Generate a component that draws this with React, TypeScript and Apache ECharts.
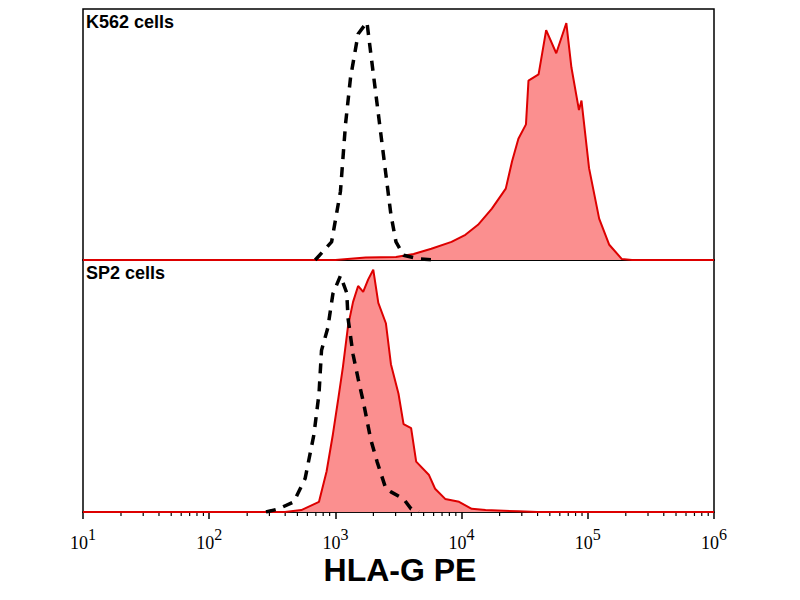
import { useEffect, useRef } from 'react';
import * as echarts from 'echarts';

// x values are log10(HLA-G PE fluorescence), y is relative count (peak = 100)
const k562Iso: [number, number][] = [
  [2.84, 0], [2.97, 7.6], [3.04, 28.8], [3.08, 57], [3.12, 76.7], [3.18, 95],
  [3.25, 100], [3.28, 87], [3.32, 70], [3.36, 53], [3.40, 36], [3.44, 19], [3.48, 7.6],
  [3.54, 2], [3.66, 0.5], [3.8, 0],
];
const k562Stain: [number, number][] = [
  [1, 0], [3.0, 0], [3.24, 1], [3.48, 1.3], [3.62, 2.5], [3.76, 4.7], [3.92, 7.6], [4.03, 10.6],
  [4.13, 14.8], [4.24, 21.6], [4.35, 30], [4.40, 41.5], [4.45, 51], [4.51, 57], [4.53, 75.4],
  [4.61, 78], [4.67, 96.6], [4.75, 86.9], [4.83, 99.6], [4.87, 81], [4.93, 63], [4.95, 67],
  [5.01, 38.6], [5.09, 17.4], [5.17, 6.4], [5.27, 0.4], [5.35, 0], [6, 0],
];
const sp2Iso: [number, number][] = [
  [2.45, 0], [2.55, 1.3], [2.67, 4.2], [2.76, 13.8], [2.83, 32], [2.87, 48.8], [2.89, 66.7],
  [2.94, 76], [2.98, 90], [3.04, 97.5], [3.09, 90.4], [3.10, 80], [3.14, 65], [3.18, 55],
  [3.22, 45.8], [3.28, 30], [3.33, 20.8], [3.40, 9.6], [3.44, 8.3], [3.54, 5.4], [3.60, 1.3],
  [3.66, 0],
];
const sp2Stain: [number, number][] = [
  [1, 0], [2.6, 0], [2.73, 0.8], [2.87, 4.2], [2.93, 16.7], [2.98, 32], [3.02, 45.8], [3.06, 60],
  [3.10, 76.7], [3.14, 86.7], [3.18, 93.3], [3.22, 90.8], [3.26, 96], [3.30, 100], [3.34, 86.3],
  [3.40, 77.9], [3.44, 61], [3.50, 48.8], [3.54, 36.3], [3.60, 34.6], [3.64, 20.8], [3.74, 15.4],
  [3.79, 9.6], [3.87, 5.4], [3.98, 4.2], [4.08, 1.3], [4.19, 0.8], [4.45, 0.3], [4.6, 0], [6, 0],
];
const panelLabels = ['K562 cells', 'SP2 cells'];
const xTitle = 'HLA-G PE';

const minorTicks: number[] = [];
for (let d = 1; d < 6; d++) for (let k = 2; k <= 9; k++) minorTicks.push(d + Math.log10(k));

export default function App() {
  const ref = useRef<HTMLDivElement>(null);
  useEffect(() => {
    if (!ref.current) return;
    const chart = echarts.init(ref.current, undefined, { renderer: 'svg' });
    const iso = (data: [number, number][], i: number) => ({
      type: 'line', xAxisIndex: i, yAxisIndex: i, data, symbol: 'none', z: 3,
      lineStyle: { color: '#000', width: 3.5, type: [10, 8] },
    });
    const stain = (data: [number, number][], i: number) => ({
      type: 'line', xAxisIndex: i, yAxisIndex: i, data, symbol: 'none', z: 2,
      lineStyle: { color: '#dd0000', width: 2 },
      areaStyle: { color: '#fb8f8f', opacity: 1 },
    });
    const xBase = {
      type: 'value', min: 1, max: 6, interval: 1,
      splitLine: { show: false },
      axisLine: { show: true, lineStyle: { color: '#000', width: 1.5 } },
    };
    chart.setOption({
      animation: false,
      grid: [
        { left: 75, top: 1, width: 631, height: 251, show: true, borderColor: '#000', borderWidth: 1.5 },
        { left: 75, top: 252, width: 631, height: 252, show: true, borderColor: '#000', borderWidth: 1.5 },
      ],
      xAxis: [
        { ...xBase, gridIndex: 0, axisTick: { show: false }, axisLabel: { show: false } },
        {
          ...xBase, gridIndex: 1,
          axisTick: { show: true, length: 7, lineStyle: { color: '#000', width: 1.5 } },
          axisLabel: {
            margin: 10,
            formatter: (v: number) => `{b|10}{s|${v}}`,
            rich: {
              b: { fontFamily: 'Liberation Serif', fontSize: 18, color: '#000', padding: [12, 0, 0, 0] },
              s: { fontFamily: 'Liberation Serif', fontSize: 16, color: '#000', padding: [0, 0, 6, 0] },
            },
          },
        },
      ],
      yAxis: [
        { type: 'value', gridIndex: 0, min: 0, max: 105.5, show: false },
        { type: 'value', gridIndex: 1, min: 0, max: 104, show: false },
      ],
      graphic: [
        { type: 'text', left: 78, top: 5, style: { text: panelLabels[0], font: 'bold 18px "Liberation Sans"', fill: '#000' } },
        { type: 'text', left: 78, top: 256, style: { text: panelLabels[1], font: 'bold 18px "Liberation Sans"', fill: '#000' } },
        { type: 'text', left: 'center', top: 546, style: { text: xTitle, font: 'bold 32px "Liberation Sans"', fill: '#000' } },
      ],
      series: [
        stain(k562Stain, 0), iso(k562Iso, 0),
        stain(sp2Stain, 1), iso(sp2Iso, 1),
        {
          type: 'custom', xAxisIndex: 1, yAxisIndex: 1, data: minorTicks.map((m) => [m, 0]),
          clip: false, silent: true,
          renderItem: (params: any, api: any) => {
            const p = api.coord([api.value(0), 0]);
            return { type: 'line', shape: { x1: p[0], y1: p[1], x2: p[0], y2: p[1] + 4 }, style: { stroke: '#000', lineWidth: 1.2 } };
          },
        },
      ],
    });
    return () => chart.dispose();
  }, []);
  return <div ref={ref} style={{ width: 784, height: 584 }} />;
}
